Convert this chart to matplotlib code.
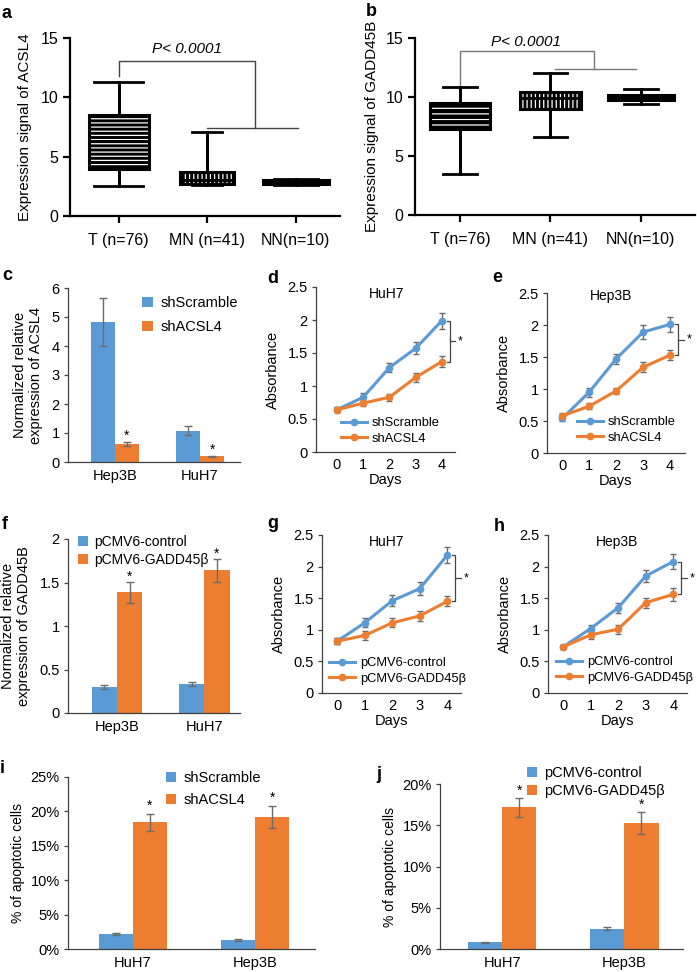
import matplotlib.pyplot as plt
from matplotlib.lines import Line2D
import numpy as np

plt.rcParams['font.family'] = ['Liberation Sans', 'DejaVu Sans']
plt.rcParams['hatch.linewidth'] = 0.9

BLUE = '#5B9BD5'
ORANGE = '#ED7D31'
ERRC = '#6b6b6b'
AXC = '#404040'

# --- data ---
groups = ['T (n=76)', 'MN (n=41)', 'NN(n=10)']
a_whislo = [2.5, 2.6, 2.6]
a_q1 = [4.0, 2.7, 2.7]
a_med = [6.3, 3.0, 2.85]
a_q3 = [8.5, 3.7, 3.0]
a_whishi = [11.3, 7.1, 3.1]

b_whislo = [3.5, 6.6, 9.4]
b_q1 = [7.3, 9.0, 9.75]
b_med = [8.3, 9.9, 10.0]
b_q3 = [9.5, 10.45, 10.2]
b_whishi = [10.85, 12.0, 10.7]

cells_cf = ['Hep3B', 'HuH7']
c_scr = [4.82, 1.08]
c_scr_err = [0.83, 0.15]
c_sh = [0.61, 0.20]
c_sh_err = [0.07, 0.02]

f_ctrl = [0.30, 0.33]
f_ctrl_err = [0.02, 0.025]
f_gadd = [1.39, 1.64]
f_gadd_err = [0.12, 0.13]

days = [0, 1, 2, 3, 4]
d_scr = [0.64, 0.83, 1.28, 1.57, 1.99]
d_scr_err = [0.04, 0.06, 0.07, 0.09, 0.12]
d_sh = [0.64, 0.74, 0.83, 1.13, 1.37]
d_sh_err = [0.04, 0.05, 0.05, 0.07, 0.08]

e_scr = [0.54, 0.95, 1.47, 1.89, 2.01]
e_scr_err = [0.04, 0.07, 0.08, 0.11, 0.12]
e_sh = [0.58, 0.73, 0.97, 1.34, 1.53]
e_sh_err = [0.04, 0.05, 0.05, 0.08, 0.08]

g_ctrl = [0.82, 1.11, 1.46, 1.65, 2.18]
g_ctrl_err = [0.05, 0.07, 0.09, 0.10, 0.13]
g_gadd = [0.82, 0.91, 1.11, 1.22, 1.45]
g_gadd_err = [0.05, 0.07, 0.07, 0.08, 0.08]

h_ctrl = [0.73, 1.02, 1.35, 1.85, 2.08]
h_ctrl_err = [0.03, 0.06, 0.08, 0.10, 0.12]
h_gadd = [0.73, 0.92, 1.01, 1.43, 1.56]
h_gadd_err = [0.03, 0.06, 0.07, 0.08, 0.10]

cells_ij = ['HuH7', 'Hep3B']
i_scr = [2.2, 1.26]
i_scr_err = [0.15, 0.15]
i_sh = [18.4, 19.2]
i_sh_err = [1.2, 1.65]

j_ctrl = [0.81, 2.47]
j_ctrl_err = [0.05, 0.2]
j_gadd = [17.16, 15.25]
j_gadd_err = [1.1, 1.3]

W, H = 697, 972
fig = plt.figure(figsize=(W / 100, H / 100), dpi=100)


def add_ax(l, t, r, b):
    return fig.add_axes([l / W, 1 - b / H, (r - l) / W, (b - t) / H])


def excel_style(ax):
    for s in ['top', 'right']:
        ax.spines[s].set_visible(False)
    for s in ['left', 'bottom']:
        ax.spines[s].set_color(AXC)
        ax.spines[s].set_linewidth(0.9)
    ax.tick_params(axis='y', direction='out', length=3, width=0.9, color=AXC, labelsize=10.5, pad=3)
    ax.tick_params(axis='x', length=0, labelsize=10.5, pad=5)


def boxpanel(ax, whislo, q1, med, q3, whishi, widths, capw, hatches, xlim):
    stats = []
    for k in range(3):
        stats.append(dict(whislo=whislo[k], q1=q1[k], med=med[k], q3=q3[k],
                          whishi=whishi[k], label=groups[k]))
    pos = [1, 2, 3]
    # black boxes with white stripes first, outlines on top
    fill = ax.bxp(stats, positions=pos, widths=widths, patch_artist=True,
                  showfliers=False, showcaps=False,
                  boxprops=dict(facecolor='black', edgecolor='white', linewidth=0),
                  whiskerprops=dict(color='black', linewidth=2),
                  medianprops=dict(color='black', linewidth=0))
    for p, hch in zip(fill['boxes'], hatches):
        p.set_hatch(hch)
    ax.bxp(stats, positions=pos, widths=widths, capwidths=capw, patch_artist=True,
           showfliers=False,
           boxprops=dict(facecolor='none', edgecolor='black', linewidth=2.2),
           whiskerprops=dict(color='black', linewidth=2),
           capprops=dict(color='black', linewidth=2),
           medianprops=dict(color='black', linewidth=2))
    ax.set_xlim(*xlim)
    ax.set_ylim(0, 15)
    ax.set_yticks([0, 5, 10, 15])
    ax.set_xticks(pos)
    ax.set_xticklabels(groups)
    for s in ['top', 'right']:
        ax.spines[s].set_visible(False)
    for s in ['left', 'bottom']:
        ax.spines[s].set_linewidth(1.6)
    ax.tick_params(direction='out', length=5, width=1.6, labelsize=11.5)
    ax.tick_params(axis='x', pad=7)


# --- a ---
ax = add_ax(70, 38, 340, 216)
boxpanel(ax, a_whislo, a_q1, a_med, a_q3, a_whishi,
         [0.68, 0.61, 0.75], [0.55, 0.34, 0.5], ['----', '||||', '--'], (0.45, 3.5))
ax.plot([1, 1, 2.54, 2.54], [11.8, 13.1, 13.1, 7.4], color='#444444', lw=1)
ax.plot([2.0, 3.02], [7.4, 7.4], color='#444444', lw=1)
ax.text(1.77, 14.1, 'P< 0.0001', style='italic', fontsize=11, ha='center', va='center')
ax.set_ylabel('Expression signal of ACSL4', fontsize=11, labelpad=6)

# --- b ---
ax = add_ax(415, 38, 695, 215)
boxpanel(ax, b_whislo, b_q1, b_med, b_q3, b_whishi,
         [0.67, 0.67, 0.73], [0.37, 0.37, 0.37], ['---', '||||', '--'], (0.5, 3.6))
ax.plot([1, 1, 2.48, 2.48], [11.0, 13.9, 13.9, 12.4], color='#777777', lw=1)
ax.plot([2.05, 2.95], [12.4, 12.4], color='#777777', lw=1)
ax.text(1.73, 14.7, 'P< 0.0001', style='italic', fontsize=11, ha='center', va='center')
ax.set_ylabel('Expression signal of GADD45B', fontsize=11, labelpad=5)


def barpanel(ax, cats, v1, e1, v2, e2, width, labels, ylim, yticks, star_px):
    x = np.arange(len(cats))
    ekw = dict(ecolor=ERRC, elinewidth=1, capsize=3, capthick=1)
    ax.bar(x - width / 2, v1, width, yerr=e1, color=BLUE, label=labels[0], error_kw=ekw)
    ax.bar(x + width / 2, v2, width, yerr=e2, color=ORANGE, label=labels[1], error_kw=ekw)
    ax.set_ylim(*ylim)
    for k in range(len(cats)):
        ax.annotate('*', (x[k] + width / 2, v2[k] + e2[k]), xytext=(0, star_px),
                    textcoords='offset pixels', ha='center', va='center', fontsize=10)
    ax.set_xticks(x)
    ax.set_xticklabels(cats)
    ax.set_yticks(yticks)
    excel_style(ax)


def place_legend(ax, x, y, fs, handles=None, **kw):
    kws = dict(loc='upper left', bbox_to_anchor=(x / W, 1 - y / H), bbox_transform=fig.transFigure,
               frameon=False, fontsize=fs, borderpad=0, borderaxespad=0, **kw)
    if handles is None:
        ax.legend(**kws)
    else:
        ax.legend(handles=handles, **kws)


# --- c ---
ax = add_ax(68, 288, 240, 462)
barpanel(ax, cells_cf, c_scr, c_scr_err, c_sh, c_sh_err, 0.285,
         ['shScramble', 'shACSL4'], (0, 6), range(7), 6)
ax.set_xlim(-0.55, 1.47)
place_legend(ax, 142, 296, 10.5, handlelength=0.75, handleheight=0.75, handletextpad=0.5,
             labelspacing=0.7)
ax.set_ylabel('Normalized relative\nexpression of ACSL4', fontsize=10.5, labelpad=6)

# --- f ---
ax = add_ax(68, 539, 240, 713)
barpanel(ax, cells_cf, f_ctrl, f_ctrl_err, f_gadd, f_gadd_err, 0.29,
         ['pCMV6-control', 'pCMV6-GADD45β'], (0, 2), [0, 0.5, 1, 1.5, 2], 5)
ax.set_yticklabels(['0', '0.5', '1', '1.5', '2'])
ax.set_xlim(-0.56, 1.41)
place_legend(ax, 78, 535, 10, handlelength=0.7, handleheight=0.7, handletextpad=0.5,
             labelspacing=0.3)
ax.set_ylabel('Normalized relative\nexpression of GADD45B', fontsize=10.5, labelpad=6)


# --- line panels ---
def linepanel(ax, y1, e1, y2, e2, labels, title, title_xy, xlim, leg_xy):
    ekw = dict(ecolor=ERRC, elinewidth=1, capsize=2.5, capthick=1)
    ax.errorbar(days, y1, yerr=e1, color=BLUE, lw=2.2, marker='o', ms=4.5, **ekw)
    ax.errorbar(days, y2, yerr=e2, color=ORANGE, lw=2.2, marker='o', ms=4.5, **ekw)
    ax.set_ylim(0, 2.5)
    ax.set_yticks([0, 0.5, 1, 1.5, 2, 2.5])
    ax.set_yticklabels(['0', '0.5', '1', '1.5', '2', '2.5'])
    ax.set_xticks(days)
    ax.set_xlim(*xlim)
    excel_style(ax)
    ax.tick_params(axis='x', pad=4)
    ax.set_xlabel('Days', fontsize=10.5, labelpad=1)
    ax.set_ylabel('Absorbance', fontsize=10.5, labelpad=5)
    ax.text(title_xy[0], title_xy[1], title, fontsize=10, ha='center', va='center')
    # significance bracket
    top, bot = y1[-1], y2[-1]
    bx = 4.3
    ax.plot([bx - 0.12, bx, bx, bx - 0.12], [top, top, bot, bot], color='#444444', lw=0.9,
            clip_on=False)
    mid = (top + bot) / 2
    ax.plot([bx, bx + 0.2], [mid, mid], color='#444444', lw=0.9, clip_on=False)
    ax.text(bx + 0.3, mid, '*', fontsize=9, ha='left', va='center')
    handles = [Line2D([], [], color=BLUE, lw=2.2, marker='o', ms=4.5, label=labels[0]),
               Line2D([], [], color=ORANGE, lw=2.2, marker='o', ms=4.5, label=labels[1])]
    place_legend(ax, leg_xy[0], leg_xy[1], 9.3, handles=handles, handlelength=2.0,
                 handletextpad=0.4, labelspacing=0.3)


ax = add_ax(316, 287, 455, 452)
linepanel(ax, d_scr, d_scr_err, d_sh, d_sh_err, ['shScramble', 'shACSL4'], 'HuH7', (1.9, 2.4),
          (-0.8, 4.5), (341, 417))

ax = add_ax(547, 293, 685, 453)
linepanel(ax, e_scr, e_scr_err, e_sh, e_sh_err, ['shScramble', 'shACSL4'], 'Hep3B', (1.8, 2.45),
          (-0.56, 4.55), (577, 416))

ax = add_ax(322, 535, 461, 693)
linepanel(ax, g_ctrl, g_ctrl_err, g_gadd, g_gadd_err, ['pCMV6-control', 'pCMV6-GADD45β'],
          'HuH7', (1.8, 2.39), (-0.55, 4.5), (329, 657))

ax = add_ax(548, 535, 687, 693)
linepanel(ax, h_ctrl, h_ctrl_err, h_gadd, h_gadd_err, ['pCMV6-control', 'pCMV6-GADD45β'],
          'Hep3B', (1.95, 2.39), (-0.55, 4.5), (556, 656))

# --- i ---
ax = add_ax(68, 777, 315, 949)
barpanel(ax, cells_ij, i_scr, i_scr_err, i_sh, i_sh_err, 0.28,
         ['shScramble', 'shACSL4'], (0, 25), range(0, 30, 5), 8)
ax.set_yticklabels([f'{v}%' for v in range(0, 30, 5)])
ax.set_xlim(-0.53, 1.49)
place_legend(ax, 166, 771, 10.5, handlelength=0.7, handleheight=0.7, handletextpad=0.5,
             labelspacing=0.55)
ax.set_ylabel('% of apoptotic cells', fontsize=10, labelpad=4)

# --- j ---
ax = add_ax(440, 784, 683, 949)
barpanel(ax, cells_ij, j_ctrl, j_ctrl_err, j_gadd, j_gadd_err, 0.28,
         ['pCMV6-control', 'pCMV6-GADD45β'], (0, 20), range(0, 25, 5), 8)
ax.set_yticklabels([f'{v}%' for v in range(0, 25, 5)])
ax.set_xlim(-0.51, 1.48)
place_legend(ax, 527, 766, 10.5, handlelength=0.7, handleheight=0.7, handletextpad=0.5,
             labelspacing=0.3)
ax.set_ylabel('% of apoptotic cells', fontsize=10, labelpad=4)

# panel letters
letters = ['a', 'b', 'c', 'd', 'e', 'f', 'g', 'h', 'i', 'j']
letter_pos = [(2, 5), (366, 3), (2, 267), (267, 270), (492, 269), (2, 516), (267, 515),
              (494, 518), (0, 760), (376, 766)]
for letter, (x, y) in zip(letters, letter_pos):
    fig.text(x / W, 1 - y / H, letter, fontsize=13, fontweight='bold', ha='left', va='top')

fig.savefig('out.png', dpi=100)
